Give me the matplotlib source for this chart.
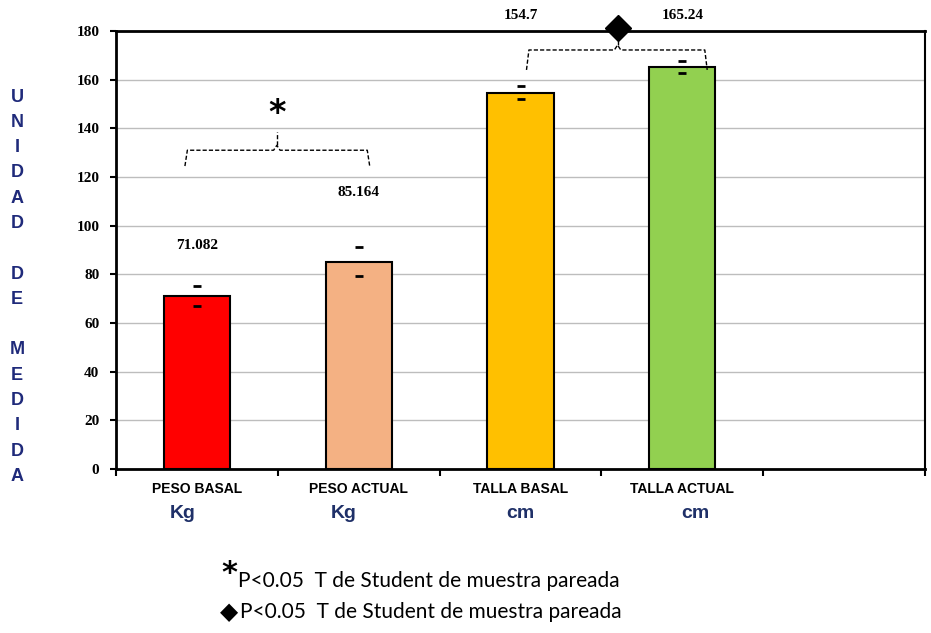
import numpy as np
import matplotlib.pyplot as plt
import matplotlib.transforms as mtransforms

# data
categorias = ["PESO BASAL", "PESO ACTUAL", "TALLA BASAL", "TALLA ACTUAL"]
unidades = ["Kg", "Kg", "cm", "cm"]
medias = [71.082, 85.164, 154.7, 165.24]
errores = [4.1, 5.9, 2.5, 2.6]
colores = ["#FF0000", "#F4B183", "#FFC000", "#92D050"]
etiquetas = ["71.082", "85.164", "154.7", "165.24"]
etiqueta_y = [92, 113.5, 186.5, 186.5]

fig = plt.figure(figsize=(9.31, 6.33), dpi=100)
ax = fig.add_axes([116 / 931, 1 - 469 / 633, 809 / 931, 438 / 633])

x = np.arange(len(medias))
ax.bar(x, medias, width=0.41, color=colores, edgecolor="black", linewidth=1.5, zorder=3)
ax.errorbar(x, medias, yerr=errores, fmt="none", ecolor="black", elinewidth=0,
            capsize=3, capthick=2, zorder=4)

for xi, txt, yi in zip(x, etiquetas, etiqueta_y):
    ax.text(xi, yi, txt, ha="center", va="center", fontsize=11, fontweight="bold",
            family="Liberation Serif", clip_on=False)

ax.set_xlim(-0.5, 4.5)
ax.set_ylim(0, 180)
ax.set_yticks(np.arange(0, 181, 20))
ax.grid(axis="y", color="#BDBDBD", linewidth=1, zorder=0)
ax.tick_params(axis="y", direction="out", length=4, width=1.5, pad=8)
for lab in ax.get_yticklabels():
    lab.set_family("Liberation Serif")
    lab.set_fontweight("bold")
    lab.set_fontsize(11)

# category separators as ticks, names drawn below
ax.set_xticks(np.arange(-0.5, 4.6, 1))
ax.set_xticklabels([])
ax.tick_params(axis="x", direction="out", length=5, width=1.5)
trans = mtransforms.blended_transform_factory(ax.transData, fig.transFigure)
for xi, nombre in zip(x, categorias):
    ax.text(xi, 1 - 489 / 633, nombre, transform=trans, ha="center", va="center",
            fontsize=10, fontweight="bold", family="Liberation Sans")
unidad_dx = [-0.09, -0.09, 0.0, 0.08]
for xi, u, dx in zip(x, unidades, unidad_dx):
    ax.text(xi + dx, 1 - 514 / 633, u, transform=trans, ha="center", va="center",
            fontsize=14, fontweight="bold", family="Liberation Sans", color="#1F3068")

for s in ["left", "bottom", "top"]:
    ax.spines[s].set_linewidth(2)
ax.spines["right"].set_linewidth(1.5)

# significance brackets
def llave(x0, x1, xc, y, yend, ytop):
    xs = [x0, x0 + 0.015, xc - 0.02, xc, xc + 0.02, x1 - 0.015, x1]
    ys = [yend, y, y, y + 2, y, y, yend]
    ax.plot(xs, ys, ls="--", color="black", lw=1, dashes=(3, 1.5), clip_on=False, zorder=5)
    ax.plot([xc, xc], [y + 2, ytop], ls="--", color="black", lw=1, dashes=(3, 1.5),
            clip_on=False, zorder=5)

llave(-0.074, 1.068, 0.494, 131, 124.5, 138.5)
ax.text(0.494, 146, "*", ha="center", va="center", fontsize=24, fontweight="bold")
llave(2.037, 3.154, 2.6, 172.2, 164, 176)
ax.plot([2.6], [181.2], marker="D", color="black", markersize=13, clip_on=False, zorder=6)

# vertical axis title, one letter per line
titulo = list("UNIDAD") + [""] + list("DE") + [""] + list("MEDIDA")
for i, letra in enumerate(titulo):
    if letra:
        fig.text(17 / 931, 1 - (97 + i * 25.3) / 633, letra, ha="center", va="center",
                 fontsize=13, fontweight="bold", family="Liberation Sans", color="#1F2A7A")

# footnotes
fig.text(229 / 931, 1 - 574 / 633, "*", ha="center", va="center", fontsize=22,
         fontweight="bold")
fig.text(238 / 931, 1 - 581 / 633, "P<0.05  T de Student de muestra pareada",
         ha="left", va="center", fontsize=15, family="Lato")
fig.text(229 / 931, 1 - 612 / 633, "\u25C6", ha="center", va="center", fontsize=17,
         family="DejaVu Sans")
fig.text(240 / 931, 1 - 612 / 633, "P<0.05  T de Student de muestra pareada",
         ha="left", va="center", fontsize=15, family="Lato")

fig.savefig("out.png", dpi=100)
